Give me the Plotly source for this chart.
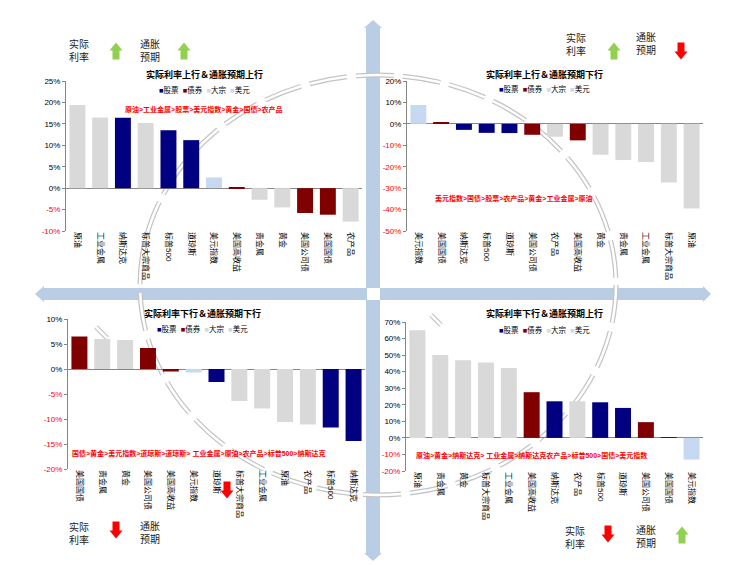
import plotly.graph_objects as go

# 资产类别与颜色
classes = ["股票", "债券", "大宗", "美元"]
class_colors = {"股票": "#000080", "债券": "#800000", "大宗": "#d9d9d9", "美元": "#c6d9f1"}
asset_class = {
    "纳斯达克": "股票", "标普500": "股票", "道琼斯": "股票",
    "美国高收益": "债券", "美国公司债": "债券", "美国国债": "债券",
    "原油": "大宗", "工业金属": "大宗", "标普大宗商品": "大宗",
    "贵金属": "大宗", "黄金": "大宗", "农产品": "大宗",
    "美元指数": "美元",
}

# 实际利率上行 & 通胀预期上行
q1_names = ["原油", "工业金属", "纳斯达克", "标普大宗商品", "标普500", "道琼斯", "美元指数",
            "美国高收益", "贵金属", "黄金", "美国公司债", "美国国债", "农产品"]
q1_vals = [19.4, 16.5, 16.4, 15.2, 13.5, 11.2, 2.5, 0.2, -2.7, -4.5, -5.8, -6.2, -7.8]
q1_order = "原油>工业金属>股票>美元指数>黄金>国债>农产品"

# 实际利率上行 & 通胀预期下行
q2_names = ["美元指数", "美国国债", "纳斯达克", "标普500", "道琼斯", "美国公司债", "农产品",
            "美国高收益", "黄金", "贵金属", "工业金属", "标普大宗商品", "原油"]
q2_vals = [8.8, 0.8, -2.8, -4.2, -4.3, -5.1, -6.0, -7.7, -14.4, -16.9, -17.8, -27.4, -39.5]
q2_order = "美元指数>国债>股票>农产品>黄金>工业金属>原油"

# 实际利率下行 & 通胀预期下行
q3_names = ["美国国债", "贵金属", "黄金", "美国公司债", "美国高收益", "美元指数", "道琼斯",
            "标普大宗商品", "工业金属", "原油", "农产品", "标普500", "纳斯达克"]
q3_vals = [6.5, 6.0, 5.8, 4.2, -0.5, -0.7, -2.6, -6.4, -7.9, -10.6, -11.1, -11.7, -14.4]
q3_order = "国债>黄金>美元指数>道琼斯>道琼斯> 工业金属>原油>农产品>标普500>纳斯达克"

# 实际利率下行 & 通胀预期上行
q4_names = ["原油", "贵金属", "黄金", "标普大宗商品", "工业金属", "美国高收益", "纳斯达克",
            "农产品", "标普500", "道琼斯", "美国公司债", "美国国债", "美元指数"]
q4_vals = [65.0, 50.1, 46.9, 45.5, 42.2, 27.6, 22.1, 22.1, 21.5, 18.1, 9.5, 0.3, -13.1]
q4_order = "原油>黄金>纳斯达克> 工业金属>纳斯达克农产品>标普500>国债>美元指数"

W, H = 747, 565
FONT = "Liberation Sans, Noto Sans CJK SC, sans-serif"
AXC = "#868686"


def px(x):
    return x / W


def py(y):
    return 1 - y / H


def poly(pts):
    return "M " + " L ".join(f"{px(a):.5f},{py(b):.5f}" for a, b in pts) + " Z"


def note(text, x, y, **kw):
    return dict(text=text, x=px(x), y=py(y), xref="paper", yref="paper",
                xanchor="center", yanchor="middle", showarrow=False, **kw)


def block_arrow(cx, cy, up, color, w=13, h=17, sw=7, hh=8):
    s = -1 if up else 1
    tip = cy + s * h / 2
    base = tip - s * hh
    tail = cy - s * h / 2
    pts = [(cx, tip), (cx + w / 2, base), (cx + sw / 2, base), (cx + sw / 2, tail),
           (cx - sw / 2, tail), (cx - sw / 2, base), (cx - w / 2, base)]
    return dict(type="path", xref="paper", yref="paper", path=poly(pts),
                fillcolor=color, line=dict(width=0), layer="above")


quads = [
    dict(names=q1_names, vals=q1_vals, order=q1_order, yr=[-10, 25], dt=5,
         box=(58, 354, 73, 223), title="实际利率上行＆通胀预期上行",
         tpos=(196, 66), lpos=(196, 82), opos=(196, 101)),
    dict(names=q2_names, vals=q2_vals, order=q2_order, yr=[-50, 20], dt=10,
         box=(399, 695, 73, 223), title="实际利率上行＆通胀预期下行",
         tpos=(536, 66), lpos=(536, 81), opos=(506, 190)),
    dict(names=q3_names, vals=q3_vals, order=q3_order, yr=[-20, 10], dt=5,
         box=(60, 357, 311, 461), title="实际利率下行＆通胀预期下行",
         tpos=(194, 305), lpos=(194, 321), opos=(190, 445)),
    dict(names=q4_names, vals=q4_vals, order=q4_order, yr=[-20, 70], dt=10,
         box=(398, 695, 314, 463), title="实际利率下行＆通胀预期上行",
         tpos=(536, 305), lpos=(536, 322), opos=(523, 447)),
]

fig = go.Figure()
annotations = []
legend_txt = "  ".join(f"<span style='color:{class_colors[c]}'>■</span>{c}" for c in classes)

for i, q in enumerate(quads, start=1):
    sfx = "" if i == 1 else str(i)
    fig.add_trace(go.Bar(
        x=q["names"], y=q["vals"],
        marker=dict(color=[class_colors[asset_class[n]] for n in q["names"]], line=dict(width=0)),
        xaxis="x" + sfx, yaxis="y" + sfx, showlegend=False,
        hovertemplate="%{x}: %{y:.1f}%<extra></extra>",
    ))
    x0, x1, y0, y1 = q["box"]
    tv = list(range(q["yr"][0], q["yr"][1] + 1, q["dt"]))
    tt = [f"<span style='color:red'>{v}%</span>" if v < 0 else f"{v}%" for v in tv]
    fig.update_layout(**{
        "xaxis" + sfx: dict(domain=[px(x0), px(x1)], anchor="y" + sfx, type="category",
                            categoryorder="array", categoryarray=q["names"],
                            showline=False, ticks="", tickangle=90, automargin=False,
                            tickfont=dict(size=8, color="black"), showgrid=False),
        "yaxis" + sfx: dict(domain=[py(y1), py(y0)], anchor="x" + sfx, range=q["yr"],
                            tickvals=tv, ticktext=tt, showgrid=False,
                            showline=True, linecolor=AXC, linewidth=1,
                            ticks="outside", ticklen=3, tickcolor=AXC,
                            zeroline=True, zerolinecolor=AXC, zerolinewidth=1,
                            tickfont=dict(size=8, color="black"), automargin=False),
    })
    annotations.append(note(f"<b>{q['title']}</b>", *q["tpos"], font=dict(size=9)))
    annotations.append(note(legend_txt, *q["lpos"], font=dict(size=7.5)))
    annotations.append(note(f"<b>{q['order']}</b>", *q["opos"], font=dict(size=7, color="red")))

# 实际利率 / 通胀预期 标签
for t, x, y in [("实际<br>利率", 71, 43), ("通胀<br>预期", 142, 43),
                ("实际<br>利率", 568, 36), ("通胀<br>预期", 638, 36),
                ("实际<br>利率", 71, 525), ("通胀<br>预期", 142, 525),
                ("实际<br>利率", 567, 529), ("通胀<br>预期", 638, 529)]:
    annotations.append(note(t, x, y, font=dict(size=10, color="#222222"), align="left"))

GREEN, RED, BLUE = "#92d050", "#ff0000", "#b9cde5"
shapes = []

# 背景十字箭头
for pts in [
    [(358, 280), (358, 20), (356, 20), (365, 12), (374, 20), (372, 20), (372, 280)],
    [(358, 292), (358, 545), (356, 545), (365, 553), (374, 545), (372, 545), (372, 292)],
    [(359, 280), (36, 280), (36, 278), (27, 286), (36, 294), (36, 292), (359, 292)],
    [(372, 280), (695, 280), (695, 278), (703, 286), (695, 294), (695, 292), (372, 292)],
]:
    shapes.append(dict(type="path", xref="paper", yref="paper", path=poly(pts),
                       fillcolor=BLUE, line=dict(width=0), layer="below"))

# 虚线椭圆(双线)
for wd, col in [(5, "#c4c4c4"), (2.5, "white")]:
    shapes.append(dict(type="circle", xref="paper", yref="paper",
                       x0=px(132), x1=px(608), y0=py(487), y1=py(67),
                       line=dict(color=col, width=wd, dash="38px,9px"), layer="below"))
    for (a, b, c, d) in [(88, 319, 99, 330), (423, 307, 433, 317)]:
        shapes.append(dict(type="line", xref="paper", yref="paper",
                           x0=px(a), y0=py(b), x1=px(c), y1=py(d),
                           line=dict(color=col, width=wd), layer="below"))

# 方向箭头
for cx, cy, up, col in [(108, 43, True, GREEN), (176, 43, True, GREEN),
                        (606, 43, True, GREEN), (673, 43, False, RED),
                        (108, 522, False, RED), (219, 482, False, RED),
                        (600, 526, False, RED), (674, 527, True, GREEN)]:
    shapes.append(block_arrow(cx, cy, up, col))

fig.update_layout(
    width=W, height=H, margin=dict(l=0, r=0, t=0, b=0),
    paper_bgcolor="white", plot_bgcolor="rgba(0,0,0,0)",
    font=dict(family=FONT, size=8, color="black"),
    bargap=0.3, showlegend=False,
    annotations=annotations, shapes=shapes,
)

fig.write_html("out.html")
